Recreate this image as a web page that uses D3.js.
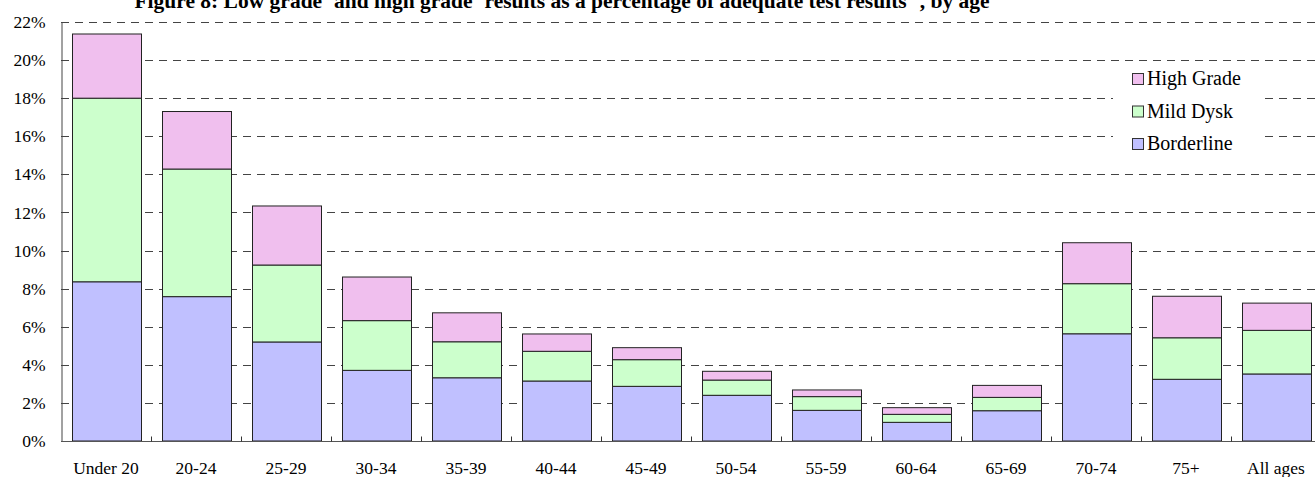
<!DOCTYPE html>
<html>
<head>
<meta charset="utf-8">
<script src="https://cdn.jsdelivr.net/npm/d3@7"></script>
<style>
  body { margin: 0; background: #fff; }
  text { font-family: "Liberation Serif", "Times New Roman", serif; fill: #000; }
</style>
</head>
<body>
<div id="chart"></div>
<script>
// values (percent)
var ageGroups = ["Under 20", "20-24", "25-29", "30-34", "35-39", "40-44", "45-49",
    "50-54", "55-59", "60-64", "65-69", "70-74", "75+", "All ages"];
var borderline = [8.36, 7.58, 5.20, 3.71, 3.32, 3.15, 2.87, 2.40, 1.61, 0.98, 1.59, 5.63, 3.24, 3.52];
var mildDysk   = [9.64, 6.70, 4.04, 2.61, 1.89, 1.56, 1.40, 0.80, 0.72, 0.42, 0.70, 2.63, 2.18, 2.29];
var highGrade  = [3.37, 3.02, 3.10, 2.29, 1.52, 0.91, 0.63, 0.46, 0.35, 0.35, 0.63, 2.15, 2.18, 1.43];
var yTicks = [0, 2, 4, 6, 8, 10, 12, 14, 16, 18, 20, 22];

var seriesNames = ["Borderline", "Mild Dysk", "High Grade"];
var colors = { "Borderline": "#c0c0ff", "Mild Dysk": "#ccffcc", "High Grade": "#f0bfee" };

var width = 1315, height = 477;
var plotLeft = 61, plotTop = 22, plotBottom = 441;

var svg = d3.select("#chart").append("svg")
    .attr("width", width)
    .attr("height", height);

var x = d3.scaleBand()
    .domain(ageGroups)
    .range([plotLeft, plotLeft + 14 * 90])
    .paddingInner(21 / 90)
    .paddingOuter(10.5 / 90);

var y = d3.scaleLinear()
    .domain([0, 22])
    .range([plotBottom, plotTop]);

// build the table for the stack
var rows = ageGroups.map(function (g, i) {
    return { group: g, "Borderline": borderline[i], "Mild Dysk": mildDysk[i], "High Grade": highGrade[i] };
});
var stacked = d3.stack().keys(seriesNames)(rows);

// gridlines
svg.append("g")
    .selectAll("line")
    .data(yTicks.filter(function (d) { return d > 0; }))
    .enter().append("line")
    .attr("x1", plotLeft)
    .attr("x2", width)
    .attr("y1", function (d) { return Math.round(y(d)) + 0.5; })
    .attr("y2", function (d) { return Math.round(y(d)) + 0.5; })
    .attr("stroke", "#444")
    .attr("stroke-dasharray", "8,6");

// legend background hides the gridlines behind it
svg.append("rect")
    .attr("x", 1113).attr("y", 62)
    .attr("width", 148).attr("height", 98)
    .attr("fill", "#fff");

// bars
svg.append("g")
    .selectAll("g")
    .data(stacked)
    .enter().append("g")
    .attr("fill", function (d) { return colors[d.key]; })
    .selectAll("rect")
    .data(function (d) { return d; })
    .enter().append("rect")
    .attr("x", function (d) { return Math.round(x(d.data.group)) + 0.5; })
    .attr("width", Math.round(x.bandwidth()))
    .attr("y", function (d) { return y(d[1]); })
    .attr("height", function (d) { return y(d[0]) - y(d[1]); })
    .attr("stroke", "#222")
    .attr("stroke-width", 1);

// y axis
var yAxis = d3.axisLeft(y)
    .tickValues(yTicks)
    .tickSize(0)
    .tickPadding(16)
    .tickFormat(function (d) { return d + "%"; });

var yg = svg.append("g")
    .attr("transform", "translate(" + (plotLeft + 0.5) + ",0)")
    .call(yAxis);
yg.select(".domain").attr("stroke", "#444");
yg.selectAll("text")
    .style("font-family", "Liberation Serif")
    .style("font-size", "17.5px");

// x axis
var xAxis = d3.axisBottom(x).tickSize(0).tickPadding(20);
var xg = svg.append("g")
    .attr("transform", "translate(0," + (plotBottom + 0.5) + ")")
    .call(xAxis);
xg.select(".domain").attr("stroke", "#555").attr("d", "M" + plotLeft + ",0H" + width);
xg.selectAll("text")
    .style("font-family", "Liberation Serif")
    .style("font-size", "17.5px");

// small ticks between categories
xg.append("g")
    .selectAll("line")
    .data(ageGroups.slice(1))
    .enter().append("line")
    .attr("x1", function (d) { return Math.round(x(d) - x.step() * x.paddingInner() / 2) + 0.5; })
    .attr("x2", function (d) { return Math.round(x(d) - x.step() * x.paddingInner() / 2) + 0.5; })
    .attr("y1", 0)
    .attr("y2", -5)
    .attr("stroke", "#333");

// legend
var legend = svg.append("g")
    .selectAll("g")
    .data(seriesNames.slice().reverse())
    .enter().append("g")
    .attr("transform", function (d, i) { return "translate(1132," + (73 + i * 32.5) + ")"; });

legend.append("rect")
    .attr("x", 0.5).attr("y", 0.5)
    .attr("width", 11).attr("height", 11)
    .attr("fill", function (d) { return colors[d]; })
    .attr("stroke", "#333");

legend.append("text")
    .attr("x", 15)
    .attr("y", 12)
    .style("font-size", "20px")
    .text(function (d) { return d; });

// title, partly cut at the top as in the figure
var title = svg.append("text")
    .attr("x", 562)
    .attr("y", 8)
    .attr("text-anchor", "middle")
    .style("font-weight", "bold")
    .style("font-size", "21.5px");
title.append("tspan").text("Figure 8: Low grade");
title.append("tspan").attr("dy", -9).style("font-size", "13px").text("*");
title.append("tspan").attr("dy", 9).text(" and high grade");
title.append("tspan").attr("dy", -9).style("font-size", "13px").text("*");
title.append("tspan").attr("dy", 9).text(" results as a percentage of adequate test results");
title.append("tspan").attr("dy", -9).style("font-size", "13px").text("**");
title.append("tspan").attr("dy", 9).text(", by age");
</script>
</body>
</html>
